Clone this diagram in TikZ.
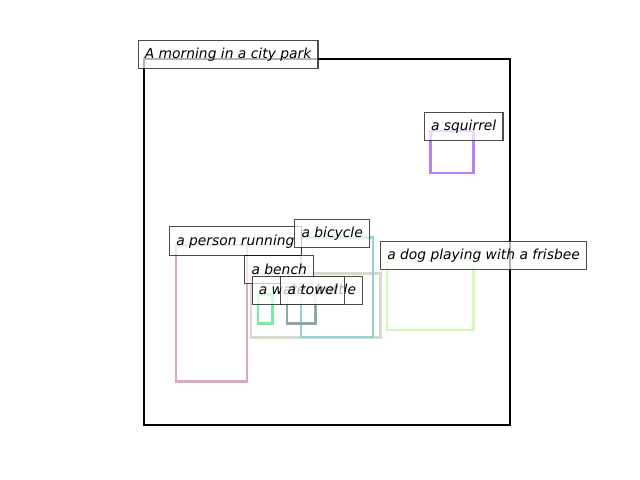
\documentclass[tikz,border=0pt]{standalone}
\usepackage{fontspec}
\setmainfont{DejaVu Sans}
\definecolor{personpink}{RGB}{224,166,196}
\definecolor{bikecyan}{RGB}{148,210,218}
\definecolor{benchgrey}{RGB}{214,220,204}
\definecolor{bottlegreen}{RGB}{111,240,160}
\definecolor{towelgrey}{RGB}{143,167,167}
\definecolor{doggreen}{RGB}{208,252,184}
\definecolor{squirrelpurple}{RGB}{184,128,240}
\begin{document}
\begin{tikzpicture}[x=0.01in,y=-0.01in,
  lbl/.style={anchor=base west,xshift=-4.8pt,fill=white,fill opacity=0.7,
    draw=black,draw opacity=0.7,text opacity=1,line width=0.8pt,
    inner xsep=4.8pt,inner ysep=4.3pt,text height=9.2pt,text depth=2.7pt,
    font=\fontsize{10}{12}\selectfont\itshape},
  obj/.style={line width=1.5pt}]
  \useasboundingbox (0,0) rectangle (640,480);
  % image frame
  \draw[line width=1.5pt] (144.3,59) rectangle (510.3,425);
  % object boxes
  \draw[obj,personpink] (175.7,245) rectangle (247,381.5);
  \draw[obj,benchgrey] (251,273.5) rectangle (380.5,337.5);
  \draw[obj,bikecyan] (301,237.5) rectangle (373,336.8);
  \draw[obj,bottlegreen] (258,294.5) rectangle (272.5,323.5);
  \draw[obj,towelgrey] (287,294.5) rectangle (315.5,323.5);
  \draw[obj,doggreen] (386.7,260) rectangle (473.5,330);
  \draw[obj,squirrelpurple] (430.5,131) rectangle (473.5,173);
  % labels
  \node[lbl] (title) at (144.3,59) {A morning in a city park};
  \node[lbl] (person) at (175.7,245.5) {a person running};
  \node[lbl] (bicycle) at (301,238) {a bicycle};
  \node[lbl] (bench) at (251,274.2) {a bench};
  \node[lbl] (bottle) at (258.3,295) {a water bottle};
  \node[lbl] (towel) at (287,295) {a towel};
  \node[lbl] (dog) at (386.7,260) {a dog playing with a frisbee};
  \node[lbl] (squirrel) at (430.5,131) {a squirrel};
\end{tikzpicture}
\end{document}
